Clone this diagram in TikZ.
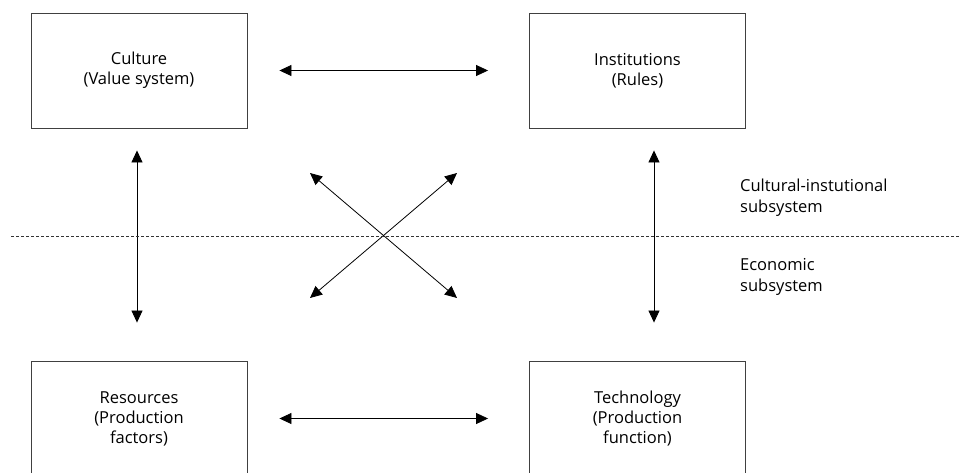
\documentclass[tikz,border=0pt]{standalone}
\usepackage{fontspec}
\setmainfont{Open Sans}
\usetikzlibrary{arrows.meta}
\begin{document}
\begin{tikzpicture}[x=1pt,y=-1pt,
  box/.style={draw=black!75,line width=0.9pt,minimum width=216pt,minimum height=115pt,
    align=center,inner sep=0pt,font=\fontsize{16.5}{20}\selectfont},
  arr/.style={line width=0.8pt,{Triangle[length=12pt,width=11pt]}-{Triangle[length=12pt,width=11pt]}},
  lbl/.style={anchor=west,align=left,inner sep=0pt,font=\fontsize{16.5}{21}\selectfont}]
\useasboundingbox (0,0) rectangle (959,472);
\clip (0,0) rectangle (959,472);
\node[box] (cul) at (139,70.5) {Culture\\(Value system)};
\node[box] (inst) at (637.5,70.5) {Institutions\\(Rules)};
\node[box] (res) at (139,418.5) {Resources\\(Production\\factors)};
\node[box] (tech) at (637.5,418.5) {Technology\\(Production\\function)};
% horizontal arrows
\draw[arr] ([xshift=32pt]cul.east) -- ([xshift=-41pt]inst.west);
\draw[arr] ([xshift=32pt]res.east) -- ([xshift=-41pt]tech.west);
% vertical arrows
\draw[arr] ([xshift=-2pt,yshift=-22pt]cul.south) -- ([xshift=-2pt,yshift=38pt]res.north);
\draw[arr] ([xshift=16.5pt,yshift=-22pt]inst.south) -- ([xshift=16.5pt,yshift=38pt]tech.north);
% cross
\coordinate (ul) at (310,173);
\coordinate (ur) at (457,173);
\coordinate (ll) at (310,298);
\coordinate (lr) at (457,298);
\draw[arr] (ul) -- (lr);
\draw[arr] (ur) -- (ll);
% dashed divider
\coordinate (dl) at (11,236);
\coordinate (dr) at (960,236);
\draw[black!80,line width=0.8pt,dash pattern=on 3pt off 2pt] (dl) -- (dr);
% labels
\node[lbl] (ci) at (740,198) {Cultural-instutional\\subsystem};
\node[lbl] (ec) at (740,277) {Economic\\subsystem};
\end{tikzpicture}
\end{document}
